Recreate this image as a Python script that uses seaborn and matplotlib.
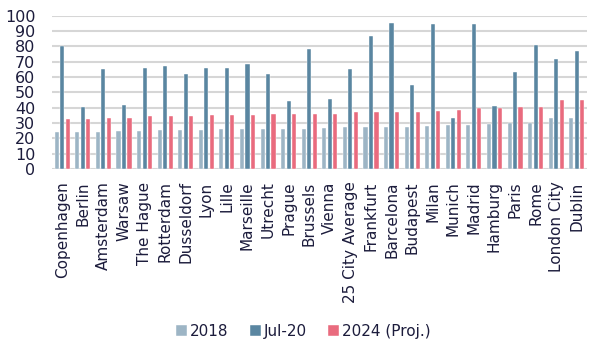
import pandas as pd
import matplotlib
matplotlib.use('Agg')
import matplotlib.pyplot as plt
import seaborn as sns

# datos
ciudades = ['Copenhagen', 'Berlin', 'Amsterdam', 'Warsaw', 'The Hague', 'Rotterdam',
            'Dusseldorf', 'Lyon', 'Lille', 'Marseille', 'Utrecht', 'Prague', 'Brussels',
            'Vienna', '25 City Average', 'Frankfurt', 'Barcelona', 'Budapest', 'Milan',
            'Munich', 'Madrid', 'Hamburg', 'Paris', 'Rome', 'London City', 'Dublin']
v2018 = [24, 24, 24, 24.5, 25, 25.2, 25.6, 25.6, 25.8, 26, 26, 26, 26.2, 26.5, 27.1,
         27.1, 27.5, 27.5, 27.8, 28.6, 28.9, 29.3, 29.7, 29.7, 33.2, 33.4]
vjul20 = [80, 40.5, 65.3, 41.6, 66.2, 67.5, 62, 66.2, 66.2, 68.8, 62, 44.5, 78.3,
          45.8, 65.1, 86.6, 95, 55.1, 94.6, 33.4, 94.8, 41.4, 63.3, 80.9, 71.6, 77]
v2024 = [32.8, 32.8, 33, 33.4, 34.3, 34.3, 34.7, 35.1, 35.1, 35.4, 35.6, 35.8, 35.8,
         36, 36.9, 37.1, 37.3, 37.3, 38, 38.8, 39.5, 39.9, 40.6, 40.6, 45.1, 45.1]
series = ['2018', 'Jul-20', '2024 (Proj.)']
colores = ['#9db5c5', '#5a86a1', '#e96b7e']

df = pd.DataFrame({'Ciudad': ciudades, '2018': v2018, 'Jul-20': vjul20, '2024 (Proj.)': v2024})
df = df.melt(id_vars='Ciudad', var_name='Serie', value_name='Valor')

sns.set_style('white')
plt.rcParams['font.family'] = ['DejaVu Sans']
texto = '#1c1c3c'

fig, ax = plt.subplots(figsize=(6.04, 3.52), dpi=100)
fig.subplots_adjust(left=0.086, right=0.972, top=0.955, bottom=0.52)

sns.barplot(data=df, x='Ciudad', y='Valor', hue='Serie', hue_order=series,
            palette=colores, gap=0.25, width=0.8, ax=ax, saturation=1,
            edgecolor='white', linewidth=0.3)

ax.set_ylim(0, 100)
ax.set_yticks(range(0, 101, 10))
ax.yaxis.grid(True, color='#d6d6d6', linewidth=1.5)
ax.set_axisbelow(True)
sns.despine(ax=ax, left=True, bottom=True)
ax.set_xlim(-0.5, len(ciudades) - 0.5)
ax.set_xlabel('')
ax.set_ylabel('')
ax.tick_params(axis='both', length=0, colors=texto)
ax.tick_params(axis='y', pad=12, labelsize=11.5)
ax.tick_params(axis='x', pad=9, labelsize=11)
plt.setp(ax.get_xticklabels(), rotation=90, ha='center', va='top')
plt.setp(ax.get_yticklabels(), ha='right')

ax.legend(loc='upper center', bbox_to_anchor=(0.47, -0.92), ncol=3, frameon=False,
          fontsize=11, handlelength=0.7, handleheight=0.7, handletextpad=0.2,
          columnspacing=1.4, labelcolor=texto)

plt.savefig('out.png', dpi=100)
